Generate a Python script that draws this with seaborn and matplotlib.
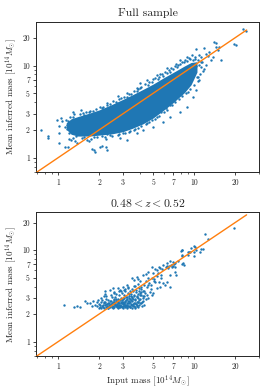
import matplotlib
matplotlib.use("Agg")
import matplotlib.pyplot as plt
import matplotlib.ticker as mticker
import numpy as np
import pandas as pd
import seaborn as sns

core_x = [1.15, 1.25, 1.4, 1.7, 2.0, 2.5, 3.0, 3.5, 4.2, 5.0, 6.0, 7.0, 8.5, 9.5, 10.5]
core_hi = [2.40, 2.65, 2.80, 3.05, 3.30, 3.80, 4.30, 4.80, 5.50, 6.30, 7.40, 8.40, 9.90, 10.8, 11.0]
core_lo = [2.05, 1.80, 1.72, 1.72, 1.76, 1.82, 1.92, 2.08, 2.33, 2.70, 3.30, 3.95, 5.10, 6.20, 8.5]

# Full sample: scattered clusters around the core
full_x = [0.75, 0.84, 0.85, 0.98, 1.05, 1.07, 1.01, 1.02, 1.01, 1.13, 1.14, 1.18, 1.16, 1.21, 1.21,
          1.25, 1.32, 1.34, 1.70, 1.85, 1.88, 2.10, 2.25, 2.31, 1.70, 1.47, 1.56, 1.77, 2.25, 1.19,
          1.30, 1.72, 2.03, 2.28, 2.77, 3.19, 3.78, 3.99, 4.48, 5.30, 5.60, 6.27, 7.40, 7.85, 8.80,
          1.37, 1.62, 2.03, 2.28, 2.85, 3.19, 3.78, 4.23, 5.00, 5.90, 6.60, 7.85, 8.80, 9.80, 10.4,
          10.3, 11.9, 12.3, 14.5, 14.9, 14.1, 15.3, 15.8, 10.3, 11.3, 11.9, 10.6, 10.9, 9.5, 19.7,
          20.3, 22.7, 24.0, 12.6, 12.9, 13.3, 13.7, 8.25, 8.0, 8.5, 9.0, 14.4,
          1.22, 1.45, 1.60, 1.90, 2.15, 2.40, 2.55, 2.90, 3.05, 3.35, 3.60, 3.90, 4.10, 4.35, 4.70,
          5.00, 5.20, 5.50, 5.80, 6.10, 6.50, 6.80, 7.20, 7.60, 8.10, 8.60, 9.20, 9.60, 10.1, 10.8,
          1.30, 1.50, 1.75, 1.95, 2.20, 2.50, 2.75, 3.00, 3.30, 3.60, 3.90, 4.40, 4.70, 5.20, 5.50,
          6.00, 6.30, 6.90, 7.30, 7.70, 8.20, 8.70, 9.30, 9.90, 10.6, 11.0, 11.6, 12.2,
          1.28, 1.52, 1.80, 2.10, 2.30, 2.65, 2.80, 3.20, 3.45, 3.80, 4.00, 4.60, 4.90, 5.40, 5.90,
          6.30, 6.70, 7.00, 7.50, 7.90, 8.40, 8.90, 9.30, 9.80, 10.2, 10.6, 11.2, 11.5, 10.9, 11.3,
          10.2, 9.70, 10.5, 9.10, 8.60, 8.00, 7.50, 7.10, 6.60, 6.20, 5.70, 5.30, 4.90, 4.50, 4.10,
          3.70, 3.40, 3.10, 2.80, 2.40, 2.10, 1.85, 1.55, 1.35, 1.20, 1.17, 1.12, 1.19]
full_y = [2.01, 1.65, 1.71, 2.58, 2.71, 2.50, 2.19, 1.85, 1.45, 1.31, 2.58, 2.33, 2.06, 1.98, 1.61,
          1.57, 3.00, 1.54, 1.52, 1.20, 1.17, 1.33, 1.61, 1.82, 3.13, 3.26, 2.88, 1.26, 1.32, 1.32,
          3.15, 3.23, 3.57, 3.88, 4.69, 5.06, 5.78, 6.40, 6.95, 7.86, 8.20, 9.30, 10.5, 11.4, 12.4,
          1.43, 1.56, 1.32, 1.21, 1.62, 1.56, 1.84, 1.99, 2.17, 2.45, 2.78, 3.15, 3.57, 4.58, 5.40,
          15.2, 15.4, 13.4, 15.8, 14.6, 17.9, 16.0, 11.6, 10.0, 10.9, 9.2, 7.5, 6.9, 7.8, 17.1,
          16.5, 24.7, 23.9, 12.6, 14.2, 11.4, 12.3, 5.84, 5.60, 5.37, 5.15, 17.6,
          2.80, 3.00, 3.10, 3.40, 3.55, 3.80, 4.10, 4.40, 4.60, 4.90, 5.30, 5.60, 5.90, 6.30, 6.60,
          7.10, 7.30, 7.60, 8.00, 8.50, 8.90, 9.50, 9.80, 10.2, 11.0, 11.6, 12.2, 12.9, 12.5, 13.0,
          1.65, 1.62, 1.60, 1.66, 1.70, 1.72, 1.78, 1.85, 1.92, 2.00, 2.10, 2.30, 2.45, 2.65, 2.85,
          3.10, 3.30, 3.70, 4.00, 4.30, 4.70, 5.00, 5.60, 6.20, 6.80, 8.00, 8.80, 10.2,
          2.75, 3.05, 3.25, 3.45, 3.70, 4.00, 4.30, 4.60, 4.95, 5.35, 5.65, 6.20, 6.70, 7.20, 7.80,
          8.30, 8.60, 9.20, 9.60, 10.4, 10.8, 11.1, 11.7, 11.5, 11.9, 11.5, 12.3, 11.0, 10.2, 9.6,
          9.00, 8.30, 7.60, 6.60, 6.00, 5.20, 4.60, 4.20, 3.70, 3.45, 3.10, 2.80, 2.55, 2.38, 2.20,
          2.05, 1.95, 1.85, 1.80, 1.75, 1.72, 1.68, 1.68, 1.72, 1.85, 2.25, 2.15, 2.50]

# Redshift slice 0.48 < z < 0.52
slice_x = [1.11, 1.31, 1.39, 1.45, 1.58, 1.62, 1.72, 1.77, 1.82, 1.87, 1.92, 1.97, 2.01, 1.94,
           2.02, 2.05, 2.08, 2.10, 2.12, 2.15, 2.17, 2.20, 2.22, 2.25, 2.27, 2.30, 2.32, 2.35, 2.37,
           2.40, 2.42, 2.44, 2.46, 2.48,
           2.50, 2.52, 2.54, 2.56, 2.58, 2.60, 2.62, 2.64, 2.66, 2.68, 2.70, 2.72, 2.74, 2.76, 2.78,
           2.80, 2.82, 2.84, 2.86, 2.88, 2.90, 2.92, 2.94, 2.96, 2.98,
           3.00, 3.03, 3.05, 3.08, 3.10, 3.12, 3.15, 3.18, 3.20, 3.22, 3.25, 3.28, 3.30, 3.33, 3.35,
           3.38, 3.40, 3.42, 3.45, 3.48,
           3.50, 3.53, 3.56, 3.60, 3.63, 3.66, 3.70, 3.73, 3.76, 3.80, 3.83, 3.86, 3.90, 3.93, 3.96,
           4.00, 4.05, 4.10, 4.15, 4.20,
           2.20, 2.60, 2.90, 3.10, 3.40, 3.60, 3.90, 4.10, 4.30, 4.40, 4.60, 4.80, 4.90, 5.10,
           2.21, 2.41, 2.55, 2.77, 2.85, 3.01, 3.19, 3.28, 3.47, 3.61, 3.78, 4.23, 4.42, 4.59, 4.87,
           5.30, 5.60, 5.45, 5.90, 6.27, 6.44, 7.00, 7.20, 7.40, 6.10, 6.60, 8.10, 9.00, 8.30, 8.40,
           10.1, 10.4,
           3.78, 3.99, 4.23, 4.47, 4.73, 5.00, 5.30, 5.60, 5.90, 5.15, 5.76, 6.27, 6.60, 7.20, 6.80,
           12.0, 12.7, 19.8, 11.3, 11.6, 9.9, 11.1, 9.9, 9.0, 9.3, 8.1, 8.1, 7.6, 8.2, 7.2, 7.0,
           6.7, 6.3, 8.07, 9.2, 9.5, 8.2, 10.0,
           5.2, 5.5, 5.8, 6.2, 6.5, 6.9, 7.1,
           4.1, 4.3, 4.35, 4.5, 4.55, 4.65, 4.8, 4.9, 5.05, 4.4, 4.0, 4.2, 3.85, 4.6, 5.0, 5.3,
           5.5, 5.7,
           2.13, 2.18, 2.24, 2.29, 2.33, 2.36, 2.39, 2.43, 2.47, 2.51, 2.53, 2.57, 2.59, 2.63, 2.65,
           2.67, 2.71, 2.73, 2.75, 2.79, 2.81, 2.83, 2.87, 2.89, 2.91, 2.93, 2.97, 2.99, 3.02, 3.04,
           3.07, 3.09, 3.11, 3.14, 3.16, 3.19, 3.21, 3.24, 3.26, 3.29, 3.31, 3.34, 3.36, 3.39, 3.41,
           3.44, 3.46, 3.49, 3.52, 3.55, 3.58, 3.61, 3.64, 3.68, 3.71, 3.75, 3.79, 3.82, 3.85, 3.88,
           3.92, 3.95, 3.98, 4.03, 4.08, 4.12, 4.18, 4.25, 4.30, 2.26, 2.45, 2.68, 2.95, 3.13, 3.32,
           3.50, 3.70, 2.06, 2.16, 2.58, 2.81, 3.05, 3.27, 1.99, 2.07, 2.19, 2.34, 2.55, 2.77, 3.00,
           3.23, 3.47, 3.68, 3.87]
slice_y = [2.49, 2.39, 2.47, 2.39, 2.80, 2.64, 2.64, 2.43, 2.80, 2.53, 2.71, 2.87, 2.58, 2.43,
           2.40, 2.55, 2.70, 2.45, 2.85, 2.38, 2.62, 2.50, 2.75, 2.42, 2.95, 2.58, 2.36, 2.68, 2.47,
           2.82, 2.40, 2.60, 2.52, 3.05,
           2.38, 2.72, 2.48, 2.90, 2.56, 2.42, 2.66, 3.10, 2.50, 2.80, 2.37, 2.60, 2.95, 2.46, 2.70,
           2.54, 3.20, 2.40, 2.85, 2.62, 2.48, 3.00, 2.72, 2.38, 2.58,
           2.90, 2.45, 3.25, 2.66, 2.40, 2.80, 3.05, 2.52, 2.95, 2.37, 3.40, 2.62, 2.78, 2.46, 3.12,
           2.70, 2.41, 2.88, 3.30, 2.55,
           2.98, 2.44, 3.55, 2.68, 3.15, 2.40, 2.85, 3.70, 2.58, 3.05, 2.46, 3.35, 2.75, 2.52, 3.90,
           3.20, 2.62, 3.50, 2.45, 3.00,
           3.30, 3.40, 3.60, 3.80, 3.60, 4.10, 4.30, 4.00, 3.60, 4.60, 4.20, 3.80, 5.00, 4.60,
           3.54, 3.69, 3.84, 3.90, 3.69, 4.00, 4.18, 3.84, 4.95, 4.74, 5.07, 5.37, 5.47, 4.95, 6.61,
           6.10, 6.36, 5.61, 6.90, 7.21, 6.36, 7.50, 6.60, 5.37, 4.18, 4.00, 10.1, 9.60, 7.21, 6.90,
           10.9, 10.1,
           2.75, 2.64, 3.12, 3.25, 3.53, 3.39, 3.83, 4.00, 4.37, 4.54, 4.93, 4.54, 5.37, 5.83, 6.90,
           15.1, 13.4, 17.5, 10.2, 10.3, 11.1, 9.5, 8.6, 8.9, 9.5, 10.0, 8.7, 7.6, 7.0, 7.3, 6.7,
           7.6, 6.7, 9.9, 9.5, 10.5, 8.75, 9.65,
           6.2, 6.5, 6.3, 6.5, 6.8, 6.6, 7.0,
           3.8, 4.2, 3.4, 4.0, 3.0, 4.4, 4.2, 3.2, 4.8, 2.9, 4.6, 2.8, 4.9, 5.8, 5.6, 5.2,
           4.5, 5.4,
           2.52, 2.71, 2.61, 2.44, 2.83, 2.55, 2.66, 2.49, 2.78, 2.62, 2.41, 2.69, 2.83, 2.54, 2.45,
           2.93, 2.52, 2.77, 2.64, 2.42, 2.86, 2.67, 2.51, 2.74, 2.43, 2.85, 2.66, 2.47, 2.75, 2.58,
           2.97, 2.50, 2.71, 2.44, 2.87, 2.63, 3.10, 2.55, 2.82, 2.47, 2.98, 2.66, 2.39, 2.91, 2.60,
           3.15, 2.49, 2.76, 3.05, 2.58, 2.90, 2.48, 3.28, 2.66, 2.95, 3.45, 2.52, 3.18, 2.70, 3.02,
           3.60, 2.88, 3.38, 2.95, 3.22, 2.70, 3.60, 3.15, 2.55, 3.12, 3.22, 3.30, 3.42, 3.55, 3.35,
           3.80, 4.05, 2.98, 3.18, 3.50, 3.62, 3.70, 3.92, 2.36, 2.33, 2.35, 2.34, 2.35, 2.34, 2.36,
           2.34, 2.36, 2.35, 2.37]

# One-to-one reference line
line_x = [0.69, 24.3]
line_y = [0.69, 24.3]

tick_vals = [1, 2, 3, 5, 7, 10, 20]

blue = "#1f77b4"
orange = "#ff7f0e"

sns.set_style("ticks")
plt.rcParams["font.family"] = ["cmr10"]
plt.rcParams["mathtext.fontset"] = "cm"
plt.rcParams["axes.formatter.use_mathtext"] = True
plt.rcParams["axes.unicode_minus"] = False

fig = plt.figure(figsize=(2.69, 3.92), dpi=100)
ax1 = fig.add_axes([0.134, 0.561, 0.829, 0.383])
ax2 = fig.add_axes([0.134, 0.092, 0.829, 0.366])

full_df = pd.DataFrame({"x": full_x, "y": full_y})
slice_df = pd.DataFrame({"x": slice_x, "y": slice_y})


def style_axes(ax, ylim):
    ax.set_xscale("log")
    ax.set_yscale("log")
    ax.set_xlim(0.69, 30)
    ax.set_ylim(*ylim)
    for axis in [ax.xaxis, ax.yaxis]:
        axis.set_major_locator(mticker.FixedLocator(tick_vals))
        axis.set_major_formatter(mticker.FixedFormatter([str(t) for t in tick_vals]))
        axis.set_minor_locator(mticker.LogLocator(subs=np.arange(2, 10)))
        axis.set_minor_formatter(mticker.NullFormatter())
    ax.tick_params(which="major", labelsize=5.5, length=2.5, width=0.6, pad=2)
    ax.tick_params(which="minor", length=1.5, width=0.5)
    for s in ax.spines.values():
        s.set_linewidth(0.7)


# Top panel: full sample
style_axes(ax1, (0.70, 29.7))
ax1.fill_between(core_x, core_lo, core_hi, color=blue, linewidth=0, zorder=1)
sns.scatterplot(data=full_df, x="x", y="y", ax=ax1, s=3, linewidth=0, color=blue, zorder=2)
sns.lineplot(x=line_x, y=line_y, ax=ax1, color=orange, linewidth=1.0, zorder=3)
ax1.set_xlabel("")
ax1.set_ylabel(r"Mean inferred mass [$10^{14}M_{\odot}$]", fontsize=6.5, labelpad=2)
ax1.set_title("Full sample", fontsize=8.5, pad=4)

# Bottom panel: redshift slice
style_axes(ax2, (0.70, 25.8))
sns.scatterplot(data=slice_df, x="x", y="y", ax=ax2, s=3, linewidth=0, color=blue, zorder=2)
sns.lineplot(x=line_x, y=line_y, ax=ax2, color=orange, linewidth=1.0, zorder=3)
ax2.set_xlabel(r"Input mass [$10^{14}M_{\odot}$]", fontsize=6.5, labelpad=2)
ax2.set_ylabel(r"Mean inferred mass [$10^{14}M_{\odot}$]", fontsize=6.5, labelpad=2)
ax2.set_title(r"$0.48 < z < 0.52$", fontsize=8.5, pad=4)

plt.savefig("out.png", dpi=100, facecolor="white")
plt.close()
